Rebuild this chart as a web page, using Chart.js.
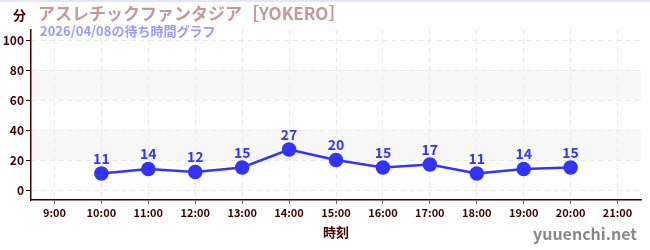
<!DOCTYPE html>
<html><head><meta charset="utf-8">
<script src="https://cdn.jsdelivr.net/npm/chart.js@4/dist/chart.umd.min.js"></script>
<style>html,body{margin:0;padding:0;background:#fff}#wrap{width:650px;height:250px;position:relative}</style>
</head><body><div id="wrap"><canvas id="c" width="650" height="250"></canvas></div>
<script>
const categories = ["9:00","10:00","11:00","12:00","13:00","14:00","15:00","16:00","17:00","18:00","19:00","20:00","21:00"];
const waitTimes = [null,11,14,12,15,27,20,15,17,11,14,15,null];
const yTicks = [0,10,20,30,40,50,60,70,80,90,100];
const bands = [[20,40],[60,80]];
const titleText = "アスレチックファンタジア［YOKERO］";
const subtitleText = "2026/04/08の待ち時間グラフ";
const unitText = "分";
const xTitle = "時刻";
const siteText = "yuuenchi.net";

const FONT = "'Noto Sans CJK JP','Noto Sans',sans-serif";
const dark = "#400000";

const deco = {
  id: 'deco',
  beforeDraw(chart) {
    const {ctx, chartArea: a, scales: {y}} = chart;
    ctx.save();
    ctx.fillStyle = '#f7f7f7';
    bands.forEach(([lo, hi]) => {
      const t = y.getPixelForValue(hi), b = y.getPixelForValue(lo);
      ctx.fillRect(a.left, t, a.right - a.left, b - t);
    });
    ctx.restore();
  },
  afterDatasetsDraw(chart) {
    const {ctx} = chart;
    const meta = chart.getDatasetMeta(0);
    ctx.save();
    ctx.font = "bold 14px " + FONT;
    ctx.fillStyle = '#3333ff';
    ctx.textAlign = 'center';
    ctx.textBaseline = 'bottom';
    meta.data.forEach((p, i) => {
      const v = waitTimes[i];
      if (v == null) return;
      ctx.fillText(String(v), p.x, p.y - 8);
    });
    ctx.restore();
  },
  afterDraw(chart) {
    const {ctx, chartArea: a} = chart;
    ctx.save();
    ctx.fillStyle = '#e4e4ff';
    ctx.fillRect(0, 0, 650, 2);
    ctx.textBaseline = 'middle';
    ctx.textAlign = 'left';
    ctx.font = "bold 13px " + FONT;
    ctx.fillStyle = dark;
    ctx.fillText(unitText, 13, 15);
    ctx.font = "bold 17px " + FONT;
    ctx.fillStyle = '#c89898';
    ctx.fillText(titleText, 38, 14);
    ctx.font = "bold 13px " + FONT;
    ctx.fillStyle = '#9a9aff';
    ctx.fillText(subtitleText, 40, 31);
    ctx.font = "bold 13px " + FONT;
    ctx.fillStyle = dark;
    ctx.textAlign = 'center';
    ctx.fillText(xTitle, (a.left + a.right) / 2, 232);
    ctx.font = "bold 16px " + FONT;
    ctx.fillStyle = '#888888';
    ctx.textAlign = 'right';
    ctx.fillText(siteText, 637, 234);
    ctx.restore();
  }
};

new Chart(document.getElementById('c'), {
  type: 'line',
  data: {
    labels: categories,
    datasets: [{
      data: waitTimes,
      borderColor: '#3333ff',
      backgroundColor: '#3333ff',
      borderWidth: 2.5,
      pointRadius: 6,
      pointHoverRadius: 6,
      tension: 0,
      spanGaps: false
    }]
  },
  options: {
    responsive: false,
    animation: false,
    events: [],
    layout: {padding: {top: 30, right: 9, left: 0, bottom: 0}},
    plugins: {legend: {display: false}, tooltip: {enabled: false}, title: {display: false}},
    scales: {
      x: {
        offset: true,
        afterFit(s) { s.height = 50; },
        grid: {offset: false, color: '#e8e8e8', tickColor: '#666', tickLength: 4, drawOnChartArea: true},
        border: {color: dark, width: 1.5, dash: [5, 4]},
        ticks: {color: dark, font: {family: FONT, size: 11, weight: 'bold'}, padding: 2, maxRotation: 0, autoSkip: false}
      },
      y: {
        min: -20/3,
        max: 320/3,
        afterFit(s) { s.width = 31; },
        afterBuildTicks(s) { s.ticks = yTicks.map(v => ({value: v})); },
        grid: {
          color: ctx => (ctx.tick && ctx.tick.value % 20 === 0) ? '#e8e8e8' : 'rgba(0,0,0,0)',
          tickColor: ctx => (ctx.tick && ctx.tick.value % 20 === 0) ? dark : '#dd3333',
          tickLength: 5
        },
        border: {color: dark, width: 1.5, dash: [5, 4]},
        ticks: {
          color: dark,
          font: {family: FONT, size: 12, weight: 'bold'},
          padding: 2,
          callback: v => (v % 20 === 0 ? String(v) : '')
        }
      }
    }
  },
  plugins: [deco]
});
</script>
</body></html>
